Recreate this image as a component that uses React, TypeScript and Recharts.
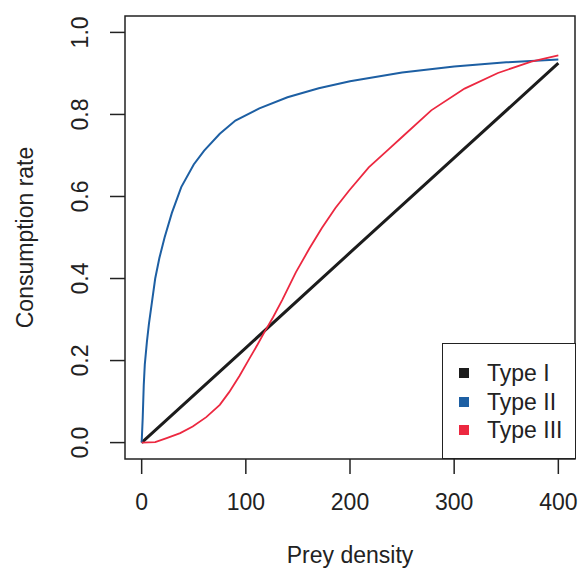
import React from 'react';
import { LineChart, Line, XAxis, YAxis, ReferenceArea } from 'recharts';

// ---- data ----
const xTicks = [0, 100, 200, 300, 400];
const yTicks = [0, 0.2, 0.4, 0.6, 0.8, 1.0];

const typeIX = [0, 100, 200, 300, 400];
const typeIY = [0, 0.231, 0.463, 0.694, 0.925];

const typeIIX = [0, 1, 2, 3, 5, 7, 10, 13, 17, 22, 29, 38, 50, 60, 75, 90, 113, 140, 170, 200, 250, 300, 350, 400];
const typeIIY = [0, 0.06, 0.14, 0.19, 0.245, 0.29, 0.345, 0.4, 0.45, 0.5, 0.56, 0.623, 0.678, 0.712, 0.753, 0.785, 0.815, 0.842, 0.864, 0.881, 0.902, 0.917, 0.927, 0.934];

const typeIIIX = [0, 13, 24, 37, 49, 62, 75, 84, 94, 103, 111, 118, 126, 135, 148, 161, 173, 186, 199, 218, 237, 250, 278, 310, 342, 374, 400];
const typeIIIY = [0, 0.001, 0.011, 0.023, 0.039, 0.062, 0.092, 0.123, 0.163, 0.203, 0.238, 0.27, 0.305, 0.348, 0.415, 0.473, 0.523, 0.572, 0.614, 0.671, 0.715, 0.745, 0.81, 0.863, 0.901, 0.929, 0.944];

const seriesNames = ['Type I', 'Type II', 'Type III'];
const seriesColors = ['#1c1c1c', '#1d5fa3', '#ec2840'];
const seriesWidths = [3, 2, 1.8];

const toRows = (xs: number[], ys: number[]) => xs.map((x, i) => ({ x, y: ys[i] }));
const seriesData = [toRows(typeIX, typeIY), toRows(typeIIX, typeIIY), toRows(typeIIIX, typeIIIY)];

const FONT = '"Liberation Sans", Arial, Helvetica, sans-serif';
const TEXT = '#222222';
const FS = 23;

const XTick = (props: any) => {
  const { x, payload } = props;
  return (
    <text x={x} y={510} textAnchor="middle" fontFamily={FONT} fontSize={FS} fill={TEXT}>
      {String(payload.value)}
    </text>
  );
};

const YTick = (props: any) => {
  const { y, payload } = props;
  return (
    <text transform={`translate(88,${y}) rotate(-90)`} textAnchor="middle" fontFamily={FONT} fontSize={FS} fill={TEXT}>
      {Number(payload.value).toFixed(1)}
    </text>
  );
};

export default function App() {
  return (
    <div style={{ position: 'absolute', left: 0, top: 0, width: 581, height: 569, background: '#fff' }}>
      <LineChart width={581} height={569} margin={{ top: 16, right: 6, bottom: 0, left: 0 }}>
        <XAxis
          type="number"
          dataKey="x"
          domain={[-16, 416]}
          ticks={xTicks}
          allowDataOverflow
          height={110}
          axisLine={false}
          tickSize={15}
          tickLine={{ stroke: '#222', strokeWidth: 1.5 }}
          tick={<XTick />}
          interval={0}
          label={{
            content: () => (
              <text x={350} y={563} textAnchor="middle" fontFamily={FONT} fontSize={FS} fill={TEXT}>
                Prey density
              </text>
            ),
          }}
        />
        <YAxis
          type="number"
          dataKey="y"
          domain={[-0.04, 1.04]}
          ticks={yTicks}
          allowDataOverflow
          width={125}
          axisLine={false}
          tickSize={15}
          tickLine={{ stroke: '#222', strokeWidth: 1.5 }}
          tick={<YTick />}
          interval={0}
          label={{
            content: () => (
              <text transform="translate(33,237.5) rotate(-90)" textAnchor="middle" fontFamily={FONT} fontSize={FS} fill={TEXT}>
                Consumption rate
              </text>
            ),
          }}
        />
        <ReferenceArea x1={-16} x2={416} y1={-0.04} y2={1.04} fill="none" fillOpacity={0} stroke="#222" strokeWidth={1.5} ifOverflow="visible" />
        {seriesData.map((d, i) => (
          <Line
            key={seriesNames[i]}
            data={d}
            dataKey="y"
            name={seriesNames[i]}
            type="linear"
            stroke={seriesColors[i]}
            strokeWidth={seriesWidths[i]}
            dot={false}
            activeDot={false}
            isAnimationActive={false}
          />
        ))}
      </LineChart>
      <div
        style={{
          position: 'absolute',
          left: 442,
          top: 343,
          width: 134,
          height: 116,
          border: '1.5px solid #222',
          boxSizing: 'border-box',
          background: '#fff',
          fontFamily: FONT,
          fontSize: FS,
          color: TEXT,
        }}
      >
        {seriesNames.map((n, i) => (
          <div key={n} style={{ position: 'absolute', left: 16, top: 15 + i * 28.5, height: 28, display: 'flex', alignItems: 'center' }}>
            <span style={{ display: 'inline-block', width: 10, height: 10, background: seriesColors[i], marginRight: 18 }} />
            <span style={{ lineHeight: '28px' }}>{n}</span>
          </div>
        ))}
      </div>
    </div>
  );
}
